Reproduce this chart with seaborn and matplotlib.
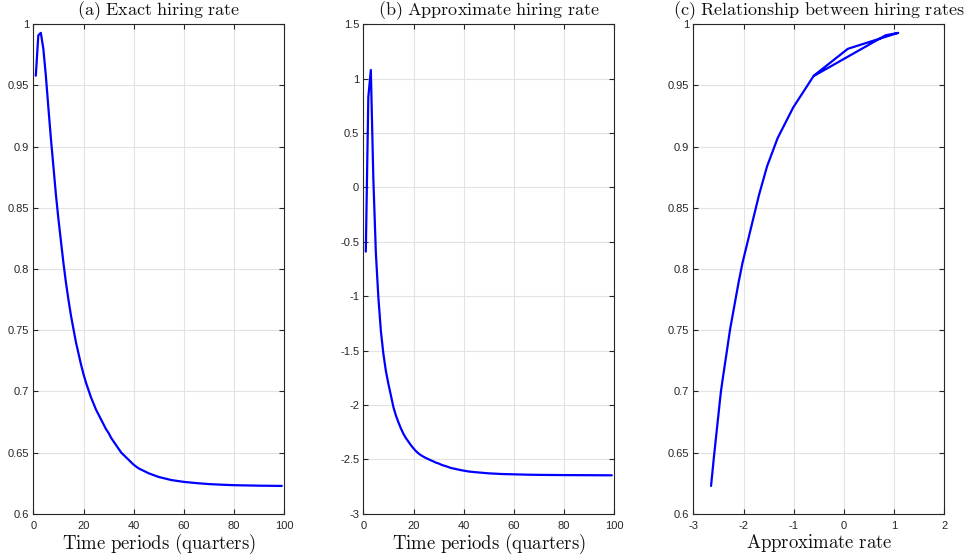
import matplotlib
matplotlib.use("Agg")
import matplotlib.pyplot as plt
import seaborn as sns
import pandas as pd

# ---- data ----
periods = [1, 2, 3, 4, 5, 6, 7, 8, 9, 10, 11, 12, 13, 14, 15, 16, 17, 18, 19, 20,
           21, 22, 23, 24, 25, 26, 27, 28, 29, 30, 31, 32, 33, 34, 35, 36, 37, 38,
           39, 40, 42, 44, 46, 48, 50, 55, 60, 65, 70, 75, 80, 90, 99]
exact_rate = [0.958, 0.991, 0.993, 0.980, 0.958, 0.932, 0.907, 0.884, 0.861, 0.841,
              0.823, 0.805, 0.789, 0.775, 0.762, 0.751, 0.740, 0.731, 0.722, 0.714,
              0.707, 0.701, 0.695, 0.690, 0.685, 0.681, 0.677, 0.673, 0.669, 0.666,
              0.662, 0.659, 0.656, 0.653, 0.650, 0.648, 0.646, 0.644, 0.642, 0.640,
              0.637, 0.635, 0.633, 0.6315, 0.630, 0.6275, 0.626, 0.625, 0.6242,
              0.6237, 0.6233, 0.6229, 0.6227]
approx_rate = [-0.59, 0.83, 1.08, 0.08, -0.60, -1.01, -1.32, -1.53, -1.688, -1.807,
               -1.913, -2.020, -2.098, -2.160, -2.217, -2.266, -2.306, -2.338, -2.371,
               -2.400, -2.425, -2.446, -2.463, -2.476, -2.489, -2.499, -2.510, -2.520,
               -2.531, -2.538, -2.549, -2.557, -2.564, -2.572, -2.580, -2.585, -2.590,
               -2.595, -2.600, -2.604, -2.612, -2.617, -2.621, -2.625, -2.629, -2.635,
               -2.638, -2.641, -2.643, -2.644, -2.645, -2.646, -2.647]

titles = [r"$\mathrm{(a)\ Exact\ hiring\ rate}$",
          r"$\mathrm{(b)\ Approximate\ hiring\ rate}$",
          r"$\mathrm{(c)\ Relationship\ between\ hiring\ rates}$"]
xlabels = [r"$\mathrm{Time\ periods\ (quarters)}$",
           r"$\mathrm{Time\ periods\ (quarters)}$",
           r"$\mathrm{Approximate\ rate}$"]

time_ticks = [0, 20, 40, 60, 80, 100]
time_ticklabels = ["0", "20", "40", "60", "80", "100"]
exact_ticks = [0.6, 0.65, 0.7, 0.75, 0.8, 0.85, 0.9, 0.95, 1.0]
exact_ticklabels = ["0.6", "0.65", "0.7", "0.75", "0.8", "0.85", "0.9", "0.95", "1"]
approx_ticks = [-3, -2.5, -2, -1.5, -1, -0.5, 0, 0.5, 1, 1.5]
approx_ticklabels = ["-3", "-2.5", "-2", "-1.5", "-1", "-0.5", "0", "0.5", "1", "1.5"]
rel_ticks = [-3, -2, -1, 0, 1, 2]
rel_ticklabels = ["-3", "-2", "-1", "0", "1", "2"]

df = pd.DataFrame({"t": periods, "exact": exact_rate, "approx": approx_rate})

# ---- style ----
sns.set_theme(style="whitegrid")
plt.rcParams["font.family"] = ["Liberation Sans", "DejaVu Sans"]
plt.rcParams["mathtext.fontset"] = "cm"

fig = plt.figure(figsize=(9.74, 5.58), dpi=100)
W, H = 974.0, 558.0
lefts = [33.3, 363.3, 693.3]
width = 251.0
top, bottom = 24.3, 513.7
axes = [fig.add_axes([l / W, 1 - bottom / H, width / W, (bottom - top) / H]) for l in lefts]

line_kw = dict(color=(0, 0, 1), linewidth=1.6, estimator=None, sort=False, legend=False)
sns.lineplot(data=df, x="t", y="exact", ax=axes[0], **line_kw)
sns.lineplot(data=df, x="t", y="approx", ax=axes[1], **line_kw)
sns.lineplot(data=df, x="approx", y="exact", ax=axes[2], **line_kw)

specs = [
    ((0, 100), time_ticks, time_ticklabels, (0.6, 1.0), exact_ticks, exact_ticklabels),
    ((0, 100), time_ticks, time_ticklabels, (-3, 1.5), approx_ticks, approx_ticklabels),
    ((-3, 2), rel_ticks, rel_ticklabels, (0.6, 1.0), exact_ticks, exact_ticklabels),
]

dark = "#262626"
for ax, (xl, xt, xtl, yl, yt, ytl), title, xlabel in zip(axes, specs, titles, xlabels):
    ax.set_xlim(*xl)
    ax.set_ylim(*yl)
    ax.set_xticks(xt)
    ax.set_xticklabels(xtl)
    ax.set_yticks(yt)
    ax.set_yticklabels(ytl)
    ax.set_facecolor("white")
    ax.grid(True, color="#e3e3e3", linewidth=0.8)
    ax.set_axisbelow(True)
    for s in ax.spines.values():
        s.set_visible(True)
        s.set_color(dark)
        s.set_linewidth(0.8)
    ax.tick_params(axis="both", which="both", direction="in", length=3.5, width=0.8,
                   color=dark, labelcolor=dark, labelsize=8,
                   top=True, right=True, bottom=True, left=True)
    ax.tick_params(axis="x", pad=5)
    ax.tick_params(axis="y", pad=3)
    ax.set_title(title, fontsize=13.0, color="#111111", pad=6.5)
    ax.set_xlabel(xlabel, fontsize=13.5, color="#111111", labelpad=1)
    ax.set_ylabel("")

fig.savefig("out.png", dpi=100, facecolor="white")
